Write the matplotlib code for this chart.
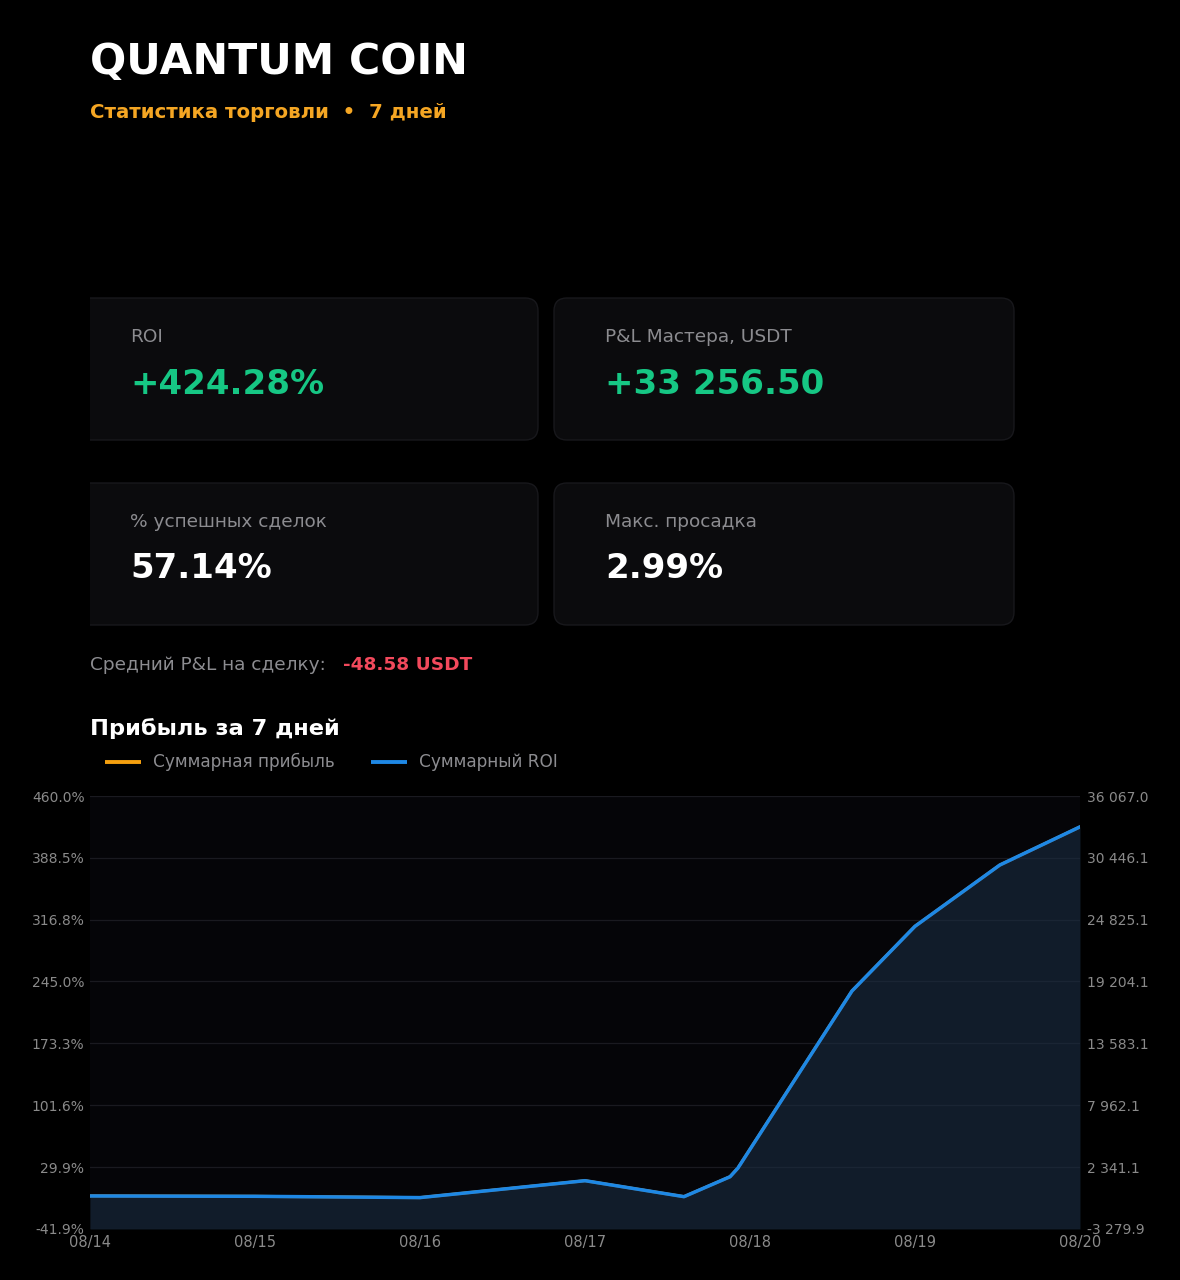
import numpy as np
import pandas as pd
import matplotlib
matplotlib.use("Agg")
import matplotlib.pyplot as plt
from matplotlib.patches import FancyBboxPatch, Rectangle

# --- data ---
title = "QUANTUM COIN"
subtitle = "Статистика торговли  •  7 дней"

card_labels = ["ROI", "P&L Мастера, USDT", "% успешных сделок", "Макс. просадка"]
card_values = ["+424.28%", "+33 256.50", "57.14%", "2.99%"]
card_colors = ["#16c784", "#16c784", "#ffffff", "#ffffff"]

avg_label = "Средний P&L на сделку:"
avg_value = "-48.58 USDT"

times = pd.to_datetime([
    "2024-08-14 00:00", "2024-08-15 00:00", "2024-08-16 00:00",
    "2024-08-17 00:00", "2024-08-17 14:24", "2024-08-17 21:06",
    "2024-08-17 22:15", "2024-08-18 14:50", "2024-08-19 00:00",
    "2024-08-19 12:20", "2024-08-20 00:00",
])
roi = [-3.6, -4.0, -5.5, 14.1, -4.4, 18.7, 28.8, 234.0, 309.0, 380.0, 424.28]
pnl = [-282, -314, -431, 1105, -345, 1466, 2257, 18340, 24219, 29784, 33256.5]

day_labels = ["08/14", "08/15", "08/16", "08/17", "08/18", "08/19", "08/20"]
day_ticks = pd.to_datetime(["2024-08-14", "2024-08-15", "2024-08-16", "2024-08-17",
                            "2024-08-18", "2024-08-19", "2024-08-20"])
roi_ticks = [-41.9, 29.9, 101.6, 173.3, 245.0, 316.8, 388.5, 460.0]
pnl_ticks = [-3279.9, 2341.1, 7962.1, 13583.1, 19204.1, 24825.1, 30446.1, 36067.0]

# colours
BG = "#000000"
CARD = "#0b0b0d"
GREY = "#8c8c90"
ORANGE = "#f5a00f"
BLUE = "#1e88e5"
RED = "#f2495c"

W, H = 1180, 1280
fig = plt.figure(figsize=(W / 100, H / 100), dpi=100, facecolor=BG)

# full-figure overlay in pixel coordinates for texts and cards
bg = fig.add_axes([0, 0, 1, 1])
bg.set_xlim(0, W)
bg.set_ylim(H, 0)
bg.axis("off")
bg.set_facecolor(BG)

bg.text(90, 62, title, color="white", fontsize=30.7, fontweight="bold", va="center", ha="left")
bg.text(90, 113, subtitle, color="#f5a623", fontsize=14.2, fontweight="bold", va="center", ha="left")

# cards
clip = Rectangle((90, 0), W, H, transform=bg.transData)
boxes = [(70, 298, 468, 142), (554, 298, 460, 142), (70, 483, 468, 142), (554, 483, 460, 142)]
for i, (x, y, w, h) in enumerate(boxes):
    p = FancyBboxPatch((x, y), w, h, boxstyle="round,pad=0,rounding_size=13",
                       facecolor=CARD, edgecolor="#18181c", linewidth=1.0)
    bg.add_patch(p)
    p.set_clip_path(clip)
    tx = 130 if x < 100 else 605
    bg.text(tx, y + 39, card_labels[i], color=GREY, fontsize=13.3, va="center", ha="left")
    bg.text(tx, y + 86, card_values[i], color=card_colors[i], fontsize=24.5,
            fontweight="bold", va="center", ha="left")

bg.text(90, 665, avg_label, color=GREY, fontsize=13.3, va="center", ha="left")
bg.text(343, 665, avg_value, color=RED, fontsize=13.3, fontweight="bold", va="center", ha="left")

bg.text(90, 729, "Прибыль за 7 дней", color="white", fontsize=16.2, fontweight="bold",
        va="center", ha="left")

# legend, drawn by hand
bg.plot([105, 141], [762, 762], color=ORANGE, lw=2.8, solid_capstyle="butt")
bg.text(153, 762, "Суммарная прибыль", color=GREY, fontsize=12.2, va="center", ha="left")
bg.plot([371, 407], [762, 762], color=BLUE, lw=2.8, solid_capstyle="butt")
bg.text(419, 762, "Суммарный ROI", color=GREY, fontsize=12.2, va="center", ha="left")

# chart
left, right, top, bottom = 90, 1080, 796, 1229
rect = [left / W, 1 - bottom / H, (right - left) / W, (bottom - top) / H]
ax2 = fig.add_axes(rect)
ax = ax2.twinx()
ax.yaxis.tick_left()
ax2.yaxis.tick_right()
ax2.set_facecolor("#050508")
ax.patch.set_visible(False)

ax2.plot(times, pnl, color=ORANGE, lw=2.2)
ax.fill_between(times, roi, roi_ticks[0], color="#1a2d42", alpha=0.6, lw=0)
ax.plot(times, roi, color=BLUE, lw=2.5, solid_joinstyle="round", solid_capstyle="round")

ax.set_xlim(day_ticks[0], day_ticks[-1])
ax.set_ylim(roi_ticks[0], roi_ticks[-1])
ax2.set_ylim(pnl_ticks[0], pnl_ticks[-1])

ax.set_yticks(roi_ticks)
ax.set_yticklabels([f"{v:.1f}%" for v in roi_ticks])
ax2.set_yticks(pnl_ticks)
ax2.set_yticklabels([f"{v:,.1f}".replace(",", " ") for v in pnl_ticks])
ax2.set_xticks(day_ticks)
ax2.set_xticklabels(day_labels)

for a in (ax, ax2):
    for s in a.spines.values():
        s.set_visible(False)
    a.tick_params(length=0, colors="#8a8a8a", labelsize=10)
ax.tick_params(axis="y", pad=4)
ax2.tick_params(axis="y", pad=5)
ax2.tick_params(axis="x", pad=4, labelsize=10.5)

for v in roi_ticks:
    ax.axhline(v, color="#1a1a20", lw=0.9, zorder=0)

fig.savefig("out.png", dpi=100, facecolor=BG)
